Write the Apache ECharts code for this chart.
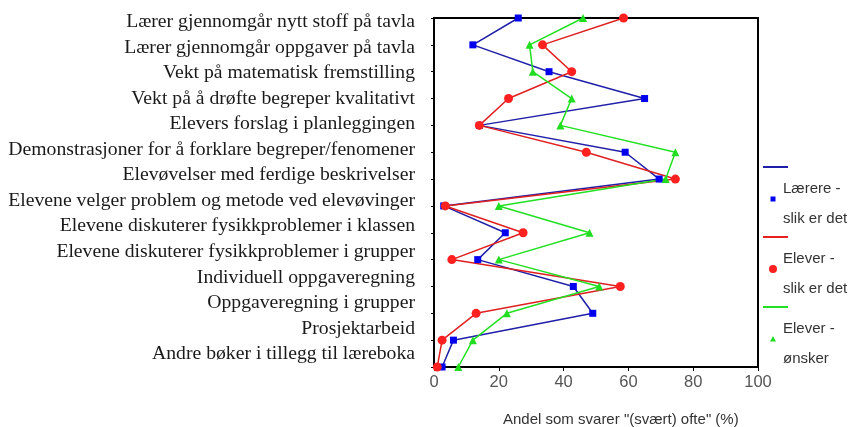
<!DOCTYPE html>
<html>
<head>
<meta charset="utf-8">
<script src="https://cdn.jsdelivr.net/npm/echarts@6/dist/echarts.min.js"></script>
<style>
  html, body { margin: 0; padding: 0; background: #fff; }
  #chart { width: 850px; height: 427px; }
</style>
</head>
<body>
<div id="chart"></div>
<script>
  // kategorier, ovenfra og ned
  var categories = [
    'Lærer gjennomgår nytt stoff på tavla',
    'Lærer gjennomgår oppgaver på tavla',
    'Vekt på matematisk fremstilling',
    'Vekt på å drøfte begreper kvalitativt',
    'Elevers forslag i planleggingen',
    'Demonstrasjoner for å forklare begreper/fenomener',
    'Elevøvelser med ferdige beskrivelser',
    'Elevene velger problem og metode ved elevøvinger',
    'Elevene diskuterer fysikkproblemer i klassen',
    'Elevene diskuterer fysikkproblemer i grupper',
    'Individuell oppgaveregning',
    'Oppgaveregning i grupper',
    'Prosjektarbeid',
    'Andre bøker i tillegg til læreboka'
  ];

  // andel (%) som svarer "(svært) ofte"
  var laerereSlik = [26, 12, 35.5, 65, 14, 59, 69.5, 3, 22, 13.5, 43, 49, 6, 2.5];
  var eleverSlik = [58.5, 33.5, 42.5, 23, 14, 47, 74.5, 3.5, 27.5, 5.5, 57.5, 13, 2.5, 1];
  var eleverOnsker = [46, 29.5, 30.5, 42.5, 39, 74.5, 71.5, 20, 48, 20, 51, 22.5, 12, 7.5];

  var xTicks = [0, 20, 40, 60, 80, 100];
  var xTitle = 'Andel som svarer "(svært) ofte" (%)';

  var legendItems = [
    {lines: ['Lærere -', 'slik er det'], color: '#1f1fa8', marker: 'rect'},
    {lines: ['Elever -', 'slik er det'], color: '#e82020', marker: 'circle'},
    {lines: ['Elever -', 'ønsker'], color: '#22e022', marker: 'triangle'}
  ];

  var chart = echarts.init(document.getElementById('chart'));

  // legenden er tegnet for hånd: strek for seg, symbol + tekst under
  var legendGraphic = [];
  legendItems.forEach(function (item, i) {
    var y0 = 167 + i * 70;
    legendGraphic.push({
      type: 'line',
      shape: {x1: 763, y1: y0, x2: 788, y2: y0},
      style: {stroke: item.color, lineWidth: 2}
    });
    var my = y0 + 32;
    if (item.marker === 'rect') {
      legendGraphic.push({type: 'rect', shape: {x: 770.5, y: my - 2.5, width: 5, height: 5}, style: {fill: '#0000ee'}});
    } else if (item.marker === 'circle') {
      legendGraphic.push({type: 'circle', shape: {cx: 773, cy: my, r: 4}, style: {fill: '#ff2020'}});
    } else {
      legendGraphic.push({type: 'polygon', shape: {points: [[773, my - 3], [776, my + 2.5], [770, my + 2.5]]}, style: {fill: '#20dd20'}});
    }
    legendGraphic.push({
      type: 'text', x: 783, y: y0 + 22,
      style: {text: item.lines[0], fill: '#333', font: '15px "Liberation Sans"', verticalAlign: 'middle'}
    });
    legendGraphic.push({
      type: 'text', x: 783, y: y0 + 52,
      style: {text: item.lines[1], fill: '#333', font: '15px "Liberation Sans"', verticalAlign: 'middle'}
    });
  });

  var option = {
    animation: false,
    backgroundColor: '#fff',
    title: {
      text: xTitle,
      left: 503,
      top: 412,
      padding: 0,
      textStyle: {fontFamily: 'Liberation Sans', fontSize: 15, fontWeight: 'normal', color: '#333'}
    },
    grid: [
      {left: 434, right: 92, top: 18, bottom: 60, show: true, borderColor: '#000', borderWidth: 2},
      {left: 417, width: 1, top: 22, bottom: 73}
    ],
    xAxis: [
      {
        type: 'value', gridIndex: 0, min: xTicks[0], max: xTicks[xTicks.length - 1], interval: 20,
        axisLine: {show: true, lineStyle: {color: '#000', width: 2}},
        axisTick: {show: true, length: 4, lineStyle: {color: '#000'}},
        axisLabel: {fontFamily: 'Liberation Sans', fontSize: 16.5, color: '#555', margin: 7},
        splitLine: {show: false}
      },
      {type: 'value', gridIndex: 1, show: false}
    ],
    yAxis: [
      {
        type: 'category', gridIndex: 0, data: categories, inverse: true, boundaryGap: false,
        axisLine: {show: true, lineStyle: {color: '#000', width: 2}},
        axisTick: {show: true, length: 3, lineStyle: {color: '#000'}},
        axisLabel: {show: false},
        splitLine: {show: false}
      },
      {
        type: 'category', gridIndex: 1, data: categories, inverse: true, boundaryGap: false,
        axisLine: {show: false}, axisTick: {show: false},
        axisLabel: {fontFamily: 'Liberation Serif', fontSize: 19.7, color: '#1a1a1a', margin: 2, interval: 0}
      }
    ],
    graphic: legendGraphic,
    series: [
      {
        name: 'Lærere - slik er det', type: 'line', data: laerereSlik,
        xAxisIndex: 0, yAxisIndex: 0,
        symbol: 'rect', symbolSize: 7, clip: false,
        lineStyle: {color: '#1f1fa8', width: 1.5},
        itemStyle: {color: '#0000ee'}
      },
      {
        name: 'Elever - slik er det', type: 'line', data: eleverSlik,
        xAxisIndex: 0, yAxisIndex: 0,
        symbol: 'circle', symbolSize: 9, clip: false,
        lineStyle: {color: '#e02020', width: 1.5},
        itemStyle: {color: '#ff2020'}
      },
      {
        name: 'Elever - ønsker', type: 'line', data: eleverOnsker,
        xAxisIndex: 0, yAxisIndex: 0,
        symbol: 'triangle', symbolSize: 8, clip: false,
        lineStyle: {color: '#22e022', width: 1.5},
        itemStyle: {color: '#20dd20'}
      }
    ]
  };

  chart.setOption(option);
</script>
</body>
</html>
